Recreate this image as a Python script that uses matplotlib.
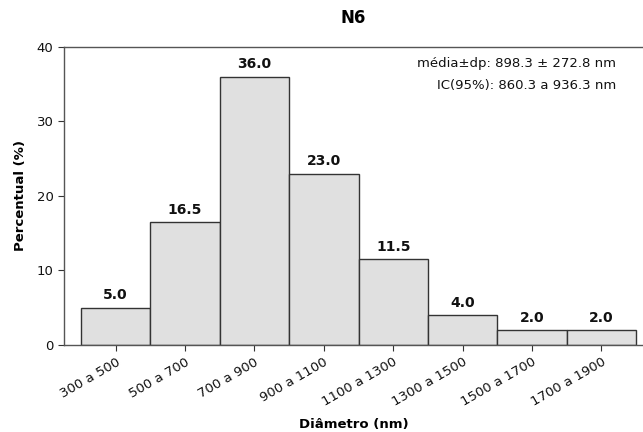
import matplotlib
matplotlib.use("Agg")
import matplotlib.pyplot as plt

categories = ["300 a 500", "500 a 700", "700 a 900", "900 a 1100",
              "1100 a 1300", "1300 a 1500", "1500 a 1700", "1700 a 1900"]
values = [5.0, 16.5, 36.0, 23.0, 11.5, 4.0, 2.0, 2.0]
yticks = [0, 10, 20, 30, 40]

plt.rcParams['font.family'] = ['DejaVu Sans']
fig = plt.figure(figsize=(6.43, 4.32), dpi=100)
ax = fig.add_axes([0.0995, 0.2014, 0.9005, 0.6898])

x = list(range(len(categories)))
ax.bar(x, values, width=1.0, color="#e0e0e0", edgecolor="#333333", linewidth=1.0)
for xi, v in zip(x, values):
    ax.annotate(f"{v:.1f}", (xi, v), xytext=(0, 4), textcoords="offset points",
                ha="center", va="bottom", fontsize=10, fontweight="bold", color="#111111")

ax.set_xlim(-0.745, 7.6)
ax.set_ylim(0, 40)
ax.set_yticks(yticks)
ax.set_xticks(x)
ax.set_xticklabels(categories, rotation=30, ha="right", rotation_mode="anchor", fontsize=9.5)
ax.tick_params(axis="y", labelsize=9.5, colors="#333333", direction="out", length=4)
ax.tick_params(axis="x", colors="#333333", direction="out", length=4)
for lab in ax.get_xticklabels() + ax.get_yticklabels():
    lab.set_color("#111111")
for s in ["left", "bottom", "top"]:
    ax.spines[s].set_color("#555555")
    ax.spines[s].set_linewidth(1.0)
ax.spines["right"].set_visible(False)

ax.set_title("N6", fontsize=12, fontweight="bold", pad=17)
ax.set_ylabel("Percentual (%)", fontsize=9.5, fontweight="bold", labelpad=7)
ax.set_xlabel("Diâmetro (nm)", fontsize=9.5, fontweight="bold", labelpad=7)

ax.text(0.953, 0.967, "média±dp: 898.3 ± 272.8 nm", transform=ax.transAxes,
        ha="right", va="top", fontsize=9.5, color="#111111")
ax.text(0.953, 0.893, "IC(95%): 860.3 a 936.3 nm", transform=ax.transAxes,
        ha="right", va="top", fontsize=9.5, color="#111111")

fig.savefig("out.png", dpi=100)
